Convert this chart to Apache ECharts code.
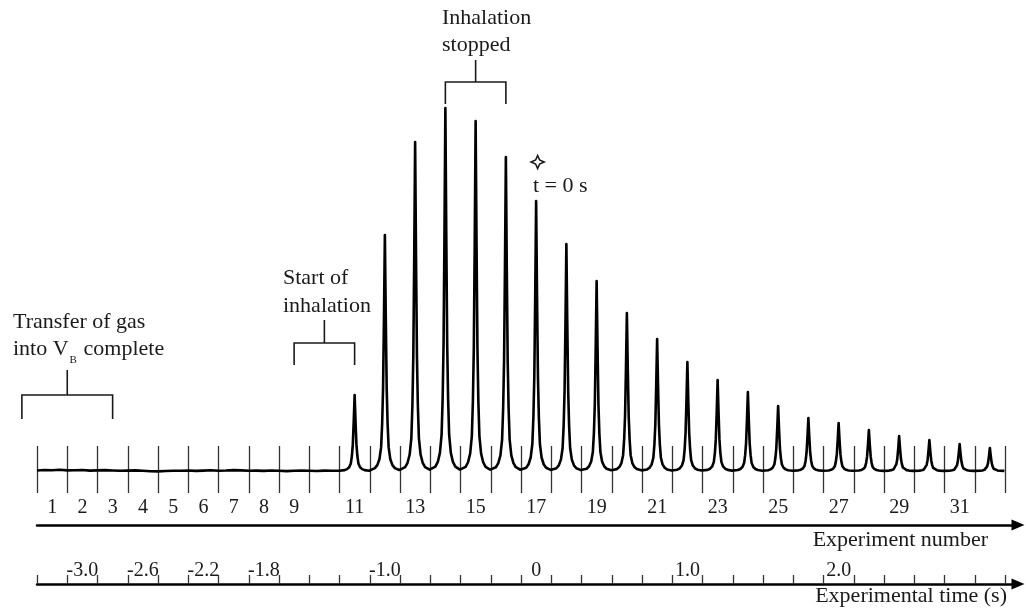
<!DOCTYPE html>
<html><head><meta charset="utf-8">
<script src="https://cdn.jsdelivr.net/npm/echarts@6/dist/echarts.min.js"></script>
<style>html,body{margin:0;padding:0;background:#fff}#chart{width:1026px;height:610px}</style>
</head><body><div id="chart"></div>
<script>
// ---------- data ----------
const experimentNumbers = [1,2,3,4,5,6,7,8,9,10,11,12,13,14,15,16,17,18,19,20,21,22,23,24,25,26,27,28,29,30,31,32];
const experimentTickLabels = ['1','2','3','4','5','6','7','8','9','','11','','13','','15','','17','','19','','21','','23','','25','','27','','29','','31',''];
const timeTickLabels = ['','-3.0','','-2.6','','-2.2','','-1.8','','','','-1.0','','','','','0','','','','','1.0','','','','','2.0','','','','',''];
const peakExperiments = [11,12,13,14,15,16,17,18,19,20,21,22,23,24,25,26,27,28,29,30,31,32];
const peakHeights = [76,236,329,363,350,314,270,227,190,158,132,109,91,79,65,53,48,41,35,31,27,23];
const peakProfileOffset = [-0.48,-0.33,-0.25,-0.18,-0.125,-0.09,-0.06,-0.03,0,0.03,0.06,0.09,0.125,0.18,0.25,0.33,0.48];
const peakProfileShare  = [0.004,0.012,0.025,0.05,0.1,0.2,0.35,0.65,1,0.65,0.35,0.2,0.1,0.05,0.025,0.012,0.004];
// quiet baseline over experiments 1-10, quarter-experiment steps
const quietBaseline = [0.5,1,0.8,1.2,0.6,0.8,1,0.4,0.6,0.9,0.5,0.2,0.4,0.6,0.3,-0.2,-0.4,0,0.3,0.2,0.5,0.1,0.4,0.8,0.3,0.5,0.9,0.6,0.2,0.4,0.1,0.5,0.3,-0.1,0.2,0.5,0.3,0,0.4,0.2,0.3];
const bracketSpans = [[0,3],[9,11],[14,16]];   // experiment numbers joined by each bracket
const t0Experiment = 17;

// ---------- build trace ----------
function buildTrace(){
  const pts = [];
  quietBaseline.forEach((v,i)=>pts.push([i*0.25, v]));
  peakExperiments.forEach((n,k)=>{
    const c = n - 0.5;
    peakProfileOffset.forEach((o,j)=>pts.push([c+o, peakHeights[k]*peakProfileShare[j]]));
  });
  pts.push([32, 0]);
  return pts;
}

const SERIF = '"Liberation Serif","Times New Roman",serif';
const INK = '#1a1a1a';
const chart = echarts.init(document.getElementById('chart'), null, {renderer:'canvas'});
const hiddenY = i => ({type:'value', gridIndex:i, show:false});

chart.setOption({
  backgroundColor:'#fff',
  animation:false,
  grid:[
    {left:37, right:21, top:100, bottom:129},   // trace
    {left:37, right:21, top:446, bottom:117},   // experiment ticks
    {left:37, right:8, top:500, bottom:85},     // experiment arrow
    {left:37, right:21, top:560, bottom:26},    // time ticks
    {left:37, right:8, top:560, bottom:26}      // time arrow
  ],
  xAxis:[
    {type:'value', gridIndex:0, min:0, max:32, show:false},
    {type:'category', gridIndex:1, data:experimentNumbers, boundaryGap:true,
     axisLine:{show:false}, axisTick:{show:false},
     splitLine:{show:true, interval:0, lineStyle:{color:'#333', width:1.3}},
     axisLabel:{interval:0, margin:5, fontFamily:SERIF, fontSize:20, color:INK,
       formatter:(v,i)=>experimentTickLabels[i]}},
    {type:'value', gridIndex:2, min:0, max:1, axisTick:{show:false}, axisLabel:{show:false}, splitLine:{show:false},
     axisLine:{show:true, symbol:['none','triangle'], symbolSize:[11,13], lineStyle:{color:'#000', width:2.5}},
     name:'Experiment number', nameLocation:'end', nameGap:-30,
     nameTextStyle:{fontFamily:SERIF, fontSize:22, color:INK, align:'right', verticalAlign:'top', padding:[4,0,0,0]}},
    {type:'category', gridIndex:3, data:experimentNumbers, boundaryGap:true,
     axisLine:{show:false},
     axisTick:{show:true, inside:true, length:9, interval:0, lineStyle:{color:'#333', width:1.3}},
     splitLine:{show:false},
     axisLabel:{inside:true, interval:0, margin:3, fontFamily:SERIF, fontSize:20, color:INK,
       formatter:(v,i)=>timeTickLabels[i]}},
    {type:'value', gridIndex:4, min:0, max:1, axisTick:{show:false}, axisLabel:{show:false}, splitLine:{show:false},
     axisLine:{show:true, symbol:['none','triangle'], symbolSize:[11,13], lineStyle:{color:'#000', width:2.5}},
     name:'Experimental time (s)', nameLocation:'end', nameGap:-11,
     nameTextStyle:{fontFamily:SERIF, fontSize:22, color:INK, align:'right', verticalAlign:'top', padding:[1,0,0,0]}}
  ],
  yAxis:[
    {type:'value', gridIndex:0, min:-10, max:371, show:false},
    hiddenY(1), hiddenY(2), hiddenY(3), hiddenY(4)
  ],
  series:[{
    type:'line', xAxisIndex:0, yAxisIndex:0, data:buildTrace(), showSymbol:false, clip:false,
    lineStyle:{color:'#000', width:2.6, join:'round'}, z:5
  }]
});

// ---------- annotations ----------
const px = v => chart.convertToPixel({xAxisIndex:0}, v);
const cx = n => px(n - 0.5);
const bracketLevels = [[419,395,370],[365,343,320],[104,82,60]]; // leg bottom, bar, stem top (px)
const g = [];
bracketSpans.forEach((s,i)=>{
  const [yb, ybar, ytop] = bracketLevels[i];
  const x1 = cx(s[0]), x2 = cx(s[1]), xm = (x1+x2)/2;
  g.push({type:'polyline', shape:{points:[[x1,yb],[x1,ybar],[x2,ybar],[x2,yb]]}, style:{stroke:INK, lineWidth:1.6, fill:null}});
  g.push({type:'line', shape:{x1:xm, y1:ybar, x2:xm, y2:ytop}, style:{stroke:INK, lineWidth:1.6}});
});
const FS = 22;
const mid = base => base - 0.3375*FS;
function txt(s, x, base, size){
  return {type:'text', x:x, y:(size? base - 0.3375*size : mid(base)),
    style:{text:s, fontFamily:SERIF, fontSize:size||FS, fill:INK, align:'left', verticalAlign:'middle'}};
}
const ctx = document.createElement('canvas').getContext('2d');
const measure = (s, size) => { ctx.font = size + 'px "Liberation Serif"'; return ctx.measureText(s).width; };

g.push(txt('Inhalation', 442, 26));
g.push(txt('stopped', 442, 53));
g.push(txt('Start of', 283, 286));
g.push(txt('inhalation', 283, 314));
g.push(txt('Transfer of gas', 13, 330));
g.push(txt('into V', 13, 357));
const vEnd = 13 + measure('into V', FS);
g.push(txt('B', vEnd + 1, 364, 11));
g.push(txt('complete', vEnd + 1 + measure('B', 11) + 0.3*FS, 357));
g.push(txt('t = 0 s', 533, 194));
// hollow four-point star marking t = 0
const sx = cx(t0Experiment) + 1.5, sy = 162, R = 6.5, r = 2;
g.push({type:'polygon', shape:{points:[[sx,sy-R],[sx+r,sy-r],[sx+R,sy],[sx+r,sy+r],[sx,sy+R],[sx-r,sy+r],[sx-R,sy],[sx-r,sy-r]]},
  style:{stroke:INK, lineWidth:1.6, fill:'#fff'}});
chart.setOption({graphic:g});
</script></body></html>
